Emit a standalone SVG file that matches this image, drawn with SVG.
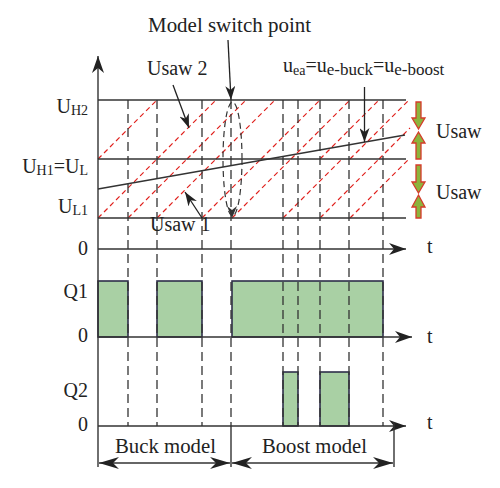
<svg xmlns="http://www.w3.org/2000/svg" width="500" height="488" viewBox="0 0 500 488">
<style>
  text { font-family: "Liberation Serif", "Times New Roman", serif; font-size: 20px; fill: #222; }
  .sub { font-size: 14px; }
  .ax { stroke: #333; stroke-width: 1.4; fill: none; }
  .lvl { stroke: #333; stroke-width: 1.3; fill: none; }
  .vd { stroke: #333; stroke-width: 1.3; stroke-dasharray: 9 5; fill: none; }
  .saw { stroke: #e0201c; stroke-width: 1.2; stroke-dasharray: 5 3.5; fill: none; }
  .ann { stroke: #222; stroke-width: 1.3; fill: none; }
  .pulse { fill: #a9d0a4; stroke: #2e2e4a; stroke-width: 1.6; }
  .ga { fill: #8cb43c; stroke: #d63a2a; stroke-width: 1.3; }
</style>
<defs>
  <marker id="axh" viewBox="0 0 17 12" refX="17" refY="6" markerWidth="17" markerHeight="12" orient="auto" markerUnits="userSpaceOnUse">
    <path d="M0,0 L17,6 L0,12 L5,6 Z" fill="#222"/>
  </marker>
  <marker id="anh" viewBox="0 0 14 10" refX="14" refY="5" markerWidth="14" markerHeight="10" orient="auto" markerUnits="userSpaceOnUse">
    <path d="M0,0 L14,5 L0,10 L4,5 Z" fill="#222"/>
  </marker>
  <marker id="brh" viewBox="0 0 20 12" refX="20" refY="6" markerWidth="20" markerHeight="12" orient="auto-start-reverse" markerUnits="userSpaceOnUse">
    <path d="M0,0 L20,6 L0,12 L6,6 Z" fill="#222"/>
  </marker>
</defs>

<g id="pulses">
  <rect class="pulse" x="98" y="281" width="30" height="56"/>
  <rect class="pulse" x="157" y="281" width="45" height="56"/>
  <rect class="pulse" x="232" y="281" width="151" height="56"/>
  <rect class="pulse" x="283" y="372" width="15" height="54"/>
  <rect class="pulse" x="320" y="372" width="29" height="54"/>
</g>

<g id="sawtooth">
  <path class="saw" d="M98,218 L157,159 M128,218 L187,159 M157,218 L216,159 M202,218 L261,159 M232,218 L291,159 M283,218 L342,159 M320,218 L379,159 M350,218 L409,159"/>
  <path class="saw" d="M98,159 L157,100 M157,159 L216,100 M187,159 L246,100 M216,159 L275,100 M261,159 L320,100 M291,159 L350,100 M320,159 L379,100 M350,159 L409,100 M379,159 L410,128"/>
</g>

<g id="levels">
  <line class="lvl" x1="98" y1="100" x2="406" y2="100"/>
  <line class="lvl" x1="98" y1="159" x2="406" y2="159"/>
  <line class="lvl" x1="98" y1="218" x2="406" y2="218"/>
  <line class="lvl" x1="98" y1="189" x2="405" y2="135"/>
</g>

<g id="timing-lines">
  <path class="vd" d="M128,100 V426 M157,100 V426 M202,100 V426 M231,100 V426 M283,100 V426 M298,100 V426 M320,100 V426 M349,100 V426 M383,100 V426"/>
  <ellipse cx="232.5" cy="159" rx="9.5" ry="57" fill="none" stroke="#333" stroke-width="1.2" stroke-dasharray="6 4"/>
  <path d="M227,206 L232,218 L237,206 L232,210 Z" fill="#333"/>
</g>

<g id="axes">
  <line class="ax" x1="98" y1="467" x2="98" y2="56" marker-end="url(#axh)"/>
  <line class="ax" x1="98" y1="249" x2="406" y2="249" marker-end="url(#axh)"/>
  <line class="ax" x1="98" y1="337" x2="412" y2="337" marker-end="url(#axh)"/>
  <line class="ax" x1="98" y1="426" x2="406" y2="426" marker-end="url(#axh)"/>
  <line class="ax" x1="231" y1="426" x2="231" y2="467"/>
  <line class="ax" x1="394" y1="422" x2="394" y2="467"/>
  <line class="ax" x1="99" y1="463" x2="230" y2="463" marker-start="url(#brh)" marker-end="url(#brh)"/>
  <line class="ax" x1="232" y1="463" x2="393" y2="463" marker-start="url(#brh)" marker-end="url(#brh)"/>
</g>

<g id="connectors">
  <line class="ann" x1="228" y1="40" x2="231" y2="100" marker-end="url(#anh)"/>
  <line class="ann" x1="173" y1="85" x2="189" y2="128" marker-end="url(#anh)"/>
  <line class="ann" x1="202" y1="218" x2="185" y2="192" marker-end="url(#anh)"/>
  <line class="ann" x1="364.5" y1="87" x2="364.5" y2="142" marker-end="url(#anh)"/>
</g>

<g id="usaw-arrows">
  <path class="ga" d="M416,102 H421 V118 H425 L418.5,129 L412,118 H416 Z"/>
  <path class="ga" d="M418.5,132 L425,143 H421 V159 H416 V143 H412 Z"/>
  <path class="ga" d="M416,165 H421 V182 H425 L418.5,193 L412,182 H416 Z"/>
  <path class="ga" d="M418.5,195 L425,207 H421 V218 H416 V207 H412 Z"/>
</g>

<g id="labels">
  <text x="148" y="32" textLength="163" lengthAdjust="spacingAndGlyphs">Model switch point</text>
  <text x="147" y="75">Usaw 2</text>
  <text x="150" y="231">Usaw 1</text>
  <text y="72"><tspan x="283">u</tspan><tspan class="sub" font-size="16" dy="3">ea</tspan><tspan dy="-3">=u</tspan><tspan font-size="17" dy="3">e-buck</tspan><tspan dy="-3">=u</tspan><tspan font-size="17" dy="3">e-boost</tspan></text>
  <text x="436" y="138">Usaw</text>
  <text x="436" y="199">Usaw</text>
  <text x="88" y="113" text-anchor="end">U<tspan class="sub" dy="2">H2</tspan></text>
  <text x="88" y="173" text-anchor="end">U<tspan class="sub" dy="2">H1</tspan><tspan dy="-2">=U</tspan><tspan class="sub" dy="2">L</tspan></text>
  <text x="88" y="213" text-anchor="end">U<tspan class="sub" dy="2">L1</tspan></text>
  <text x="88" y="255" text-anchor="end">0</text>
  <text x="88" y="298" text-anchor="end">Q1</text>
  <text x="88" y="342" text-anchor="end">0</text>
  <text x="88" y="397" text-anchor="end">Q2</text>
  <text x="88" y="431" text-anchor="end">0</text>
  <text x="427" y="253">t</text>
  <text x="427" y="343">t</text>
  <text x="427" y="429">t</text>
  <text x="115" y="453" textLength="101" lengthAdjust="spacingAndGlyphs">Buck model</text>
  <text x="262" y="453" textLength="105" lengthAdjust="spacingAndGlyphs">Boost model</text>
</g>
</svg>
